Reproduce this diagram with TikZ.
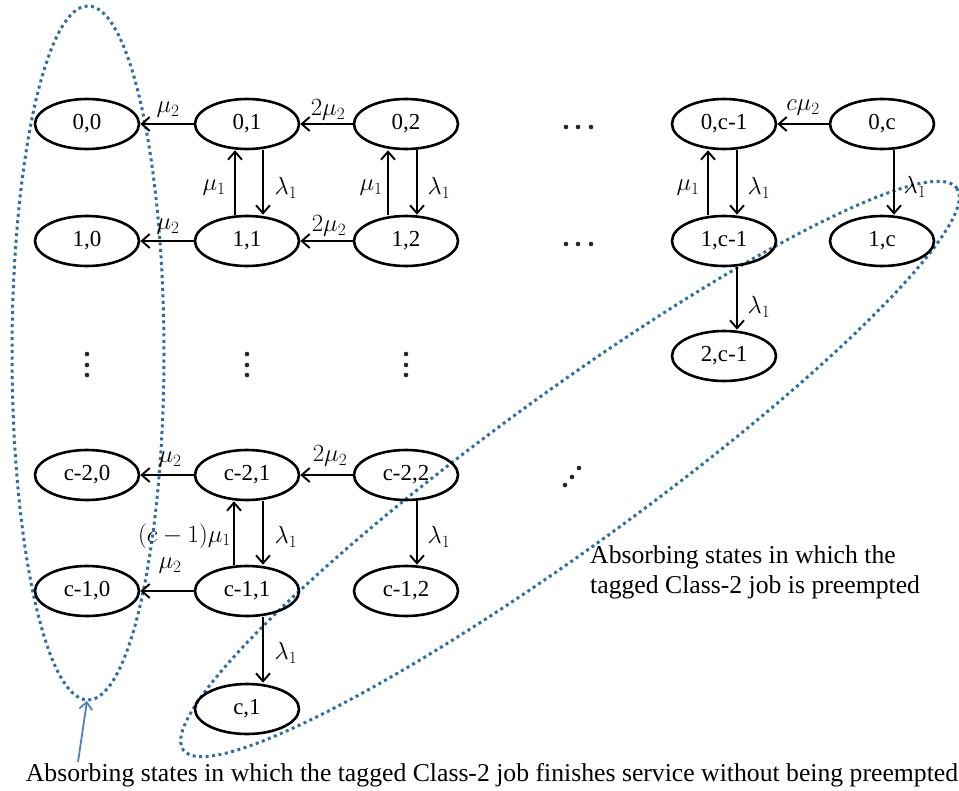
\documentclass[tikz,border=0pt]{standalone}
\usepackage{fontspec}
\setmainfont{Liberation Serif}
\usetikzlibrary{shapes.geometric,arrows.meta}
\definecolor{dotblue}{RGB}{46,110,165}
\definecolor{arrblue}{RGB}{79,129,189}
\begin{document}
\begin{tikzpicture}[x=1bp,y=-1bp,
 state/.style={ellipse,draw,line width=2.6bp,minimum width=104bp,minimum height=50bp,inner sep=0pt,font=\fontsize{23}{27}\selectfont},
 tr/.style={line width=1.9bp,-{Straight Barb[length=8bp,width=14bp,line width=1.9bp]}},
 lab/.style={font=\fontsize{23}{27}\selectfont,inner sep=0pt},
 region/.style={dotblue,line width=3bp,dash pattern=on 3bp off 3.5bp},
 dotc/.style={circle,fill=black!85,inner sep=0pt,minimum size=4.6bp},
 txt/.style={font=\fontsize{25.8}{30}\selectfont,inner sep=0pt}]
\useasboundingbox (0,0) rectangle (959,791);

% dotted regions
\draw[region] (88,353) ellipse [x radius=76, y radius=347];
\draw[region, rotate around={36:(570,469)}] (570,469) ellipse [x radius=478, y radius=76];

% states
\node[state] (s00) at (87,124) {0,0};
\node[state] (s01) at (247,124) {0,1};
\node[state] (s02) at (406,124) {0,2};
\node[state] (s0c1) at (724,124) {0,c-1};
\node[state] (s0c) at (882,124) {0,c};
\node[state] (s10) at (87,241) {1,0};
\node[state] (s11) at (247,241) {1,1};
\node[state] (s12) at (406,241) {1,2};
\node[state] (s1c1) at (724,241) {1,c-1};
\node[state] (s1c) at (882,241) {1,c};
\node[state] (s2c1) at (724,356) {2,c-1};
\node[state] (sa0) at (87,475) {c-2,0};
\node[state] (sa1) at (247,475) {c-2,1};
\node[state] (sa2) at (406,475) {c-2,2};
\node[state] (sb0) at (87,591) {c-1,0};
\node[state] (sb1) at (247,591) {c-1,1};
\node[state] (sb2) at (406,591) {c-1,2};
\node[state] (sc1) at (247,709) {c,1};

% horizontal transitions
\draw[tr] (s01) -- (s00);
\draw[tr] (s02) -- (s01);
\draw[tr] (s0c) -- (s0c1);
\draw[tr] (s11) -- (s10);
\draw[tr] (s12) -- (s11);
\draw[tr] (sa1) -- (sa0);
\draw[tr] (sa2) -- (sa1);
\draw[tr] (sb1) -- (sb0);

% vertical transitions
\draw[tr] ([xshift=-12bp]s11.north) -- ([xshift=-12bp]s01.south);
\draw[tr] ([xshift=16bp]s01.south) -- ([xshift=16bp]s11.north);
\draw[tr] ([xshift=-18bp]s12.north) -- ([xshift=-18bp]s02.south);
\draw[tr] ([xshift=11bp]s02.south) -- ([xshift=11bp]s12.north);
\draw[tr] ([xshift=-16bp]s1c1.north) -- ([xshift=-16bp]s0c1.south);
\draw[tr] ([xshift=13bp]s0c1.south) -- ([xshift=13bp]s1c1.north);
\draw[tr] ([xshift=12bp]s0c.south) -- ([xshift=12bp]s1c.north);
\draw[tr] ([xshift=13bp]s1c1.south) -- ([xshift=13bp]s2c1.north);
\draw[tr] ([xshift=-13bp]sb1.north) -- ([xshift=-13bp]sa1.south);
\draw[tr] ([xshift=16bp]sa1.south) -- ([xshift=16bp]sb1.north);
\draw[tr] ([xshift=11bp]sa2.south) -- ([xshift=11bp]sb2.north);
\draw[tr] ([xshift=16bp]sb1.south) -- ([xshift=16bp]sc1.north);

% labels
\node[lab] (l1) at (168,110) {$\mu_2$};
\node[lab] (l2) at (328,110) {$2\mu_2$};
\node[lab] (l3) at (803,108) {$c\mu_2$};
\node[lab] (l4) at (168,227) {$\mu_2$};
\node[lab] (l5) at (329,226) {$2\mu_2$};
\node[lab] (l6) at (170,460) {$\mu_2$};
\node[lab] (l7) at (330,456) {$2\mu_2$};
\node[lab] (l8) at (170,566) {$\mu_2$};
\node[lab] (l9) at (214,188) {$\mu_1$};
\node[lab] (l10) at (286,188) {$\lambda_1$};
\node[lab] (l11) at (371,188) {$\mu_1$};
\node[lab] (l12) at (439,188) {$\lambda_1$};
\node[lab] (l13) at (688,188) {$\mu_1$};
\node[lab] (l14) at (759,188) {$\lambda_1$};
\node[lab] (l15) at (915,187) {$\lambda_1$};
\node[lab] (l16) at (759,307) {$\lambda_1$};
\node[lab,anchor=east] (l17) at (231,536) {$(c-1)\mu_1$};
\node[lab] (l18) at (286,537) {$\lambda_1$};
\node[lab] (l19) at (439,537) {$\lambda_1$};
\node[lab] (l20) at (286,653) {$\lambda_1$};

% ellipsis dots
\foreach \x in {87,247,406} \foreach \y in {354,365,375} \node[dotc] at (\x,\y) {};
\foreach \x in {566,578,591} \foreach \y in {127,244} \node[dotc] at (\x,\y) {};
\node[dotc] at (565,485) {};
\node[dotc] at (572,477) {};
\node[dotc] at (579,468) {};

% captions
\node[txt,anchor=west,align=left] (cap2) at (590,572) {Absorbing states in which the\\tagged Class-2 job is preempted};
\node[txt] (cap1) at (492,775) {Absorbing states in which the tagged Class-2 job finishes service without being preempted};

% pointer arrow
\coordinate (ptail) at (78,762);
\coordinate (phead) at (87,701);
\draw[arrblue,line width=1.8bp,-{Straight Barb[length=7bp,width=13bp,line width=1.8bp]}] (ptail) -- (phead);
\end{tikzpicture}
\end{document}
